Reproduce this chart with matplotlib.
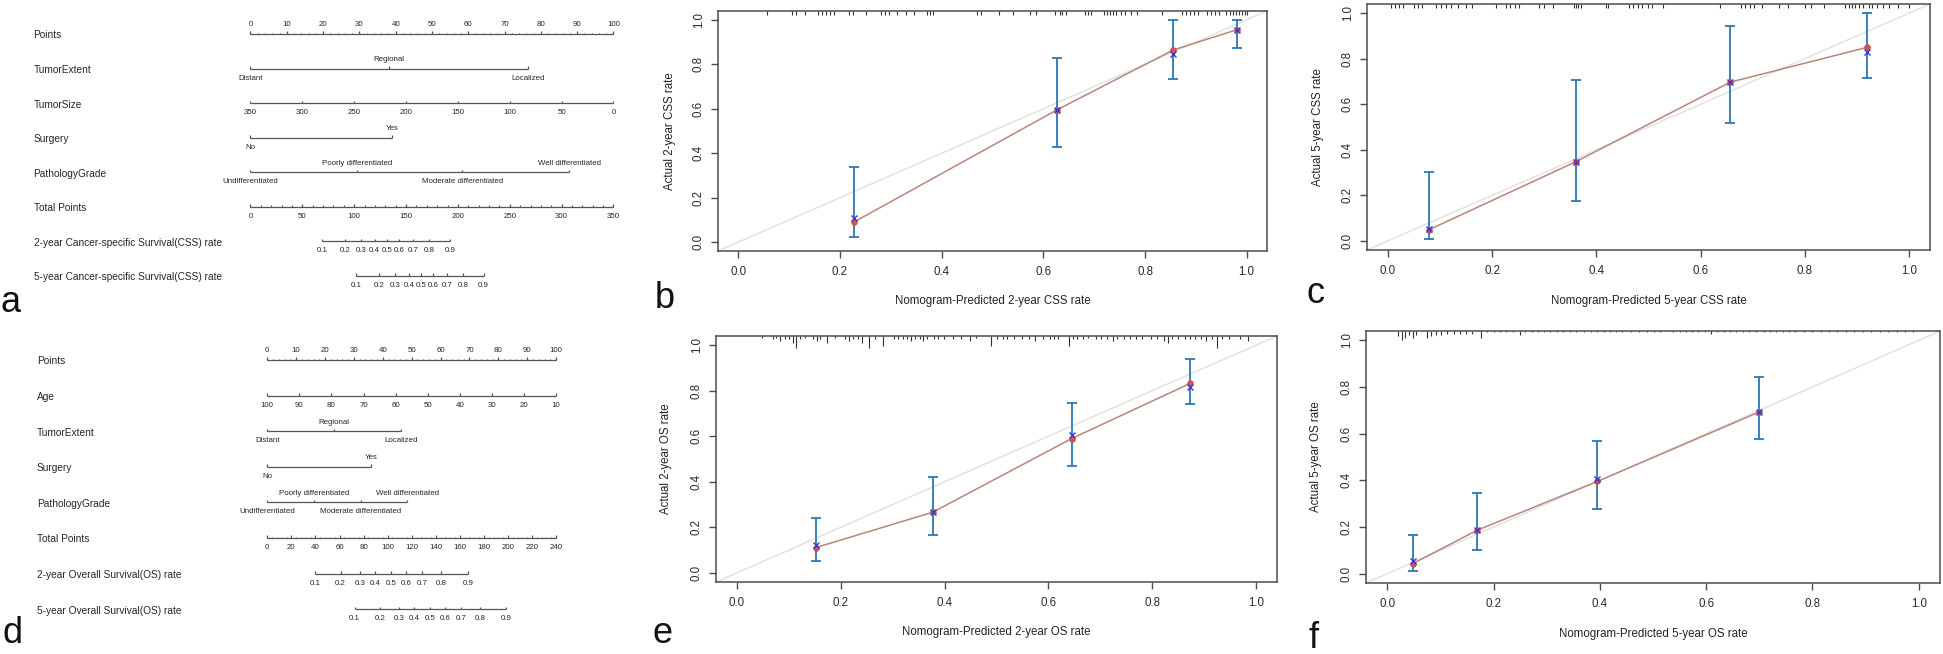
import matplotlib
matplotlib.use("Agg")
import matplotlib.pyplot as plt
import matplotlib.transforms as mtransforms
import numpy as np

plt.rcParams['font.family'] = ['Liberation Sans', 'DejaVu Sans']

W, H = 1943, 654
fig = plt.figure(figsize=(W / 100, H / 100), dpi=100)

# ---------------- nomogram data ----------------
surv_ticks = [0.1, 0.2, 0.3, 0.4, 0.5, 0.6, 0.7, 0.8, 0.9]

# panel a (CSS)
a_rows = ["Points", "TumorExtent", "TumorSize", "Surgery", "PathologyGrade", "Total Points",
          "2-year Cancer-specific Survival(CSS) rate", "5-year Cancer-specific Survival(CSS) rate"]
a_extent_lab = ["Distant", "Regional", "Localized"]
a_extent_pts = [0, 38.2, 76.4]
a_size_vals = [350, 300, 250, 200, 150, 100, 50, 0]
a_size_max = 350
a_surg_lab = ["No", "Yes"]
a_surg_pts = [0, 38.9]
a_grade_lab = ["Undifferentiated", "Poorly differentiated", "Moderate differentiated", "Well differentiated"]
a_grade_pts = [0, 29.3, 58.4, 87.8]
a_total_max = 350
a_total_labels = [0, 50, 100, 150, 200, 250, 300, 350]
a_total_minor = 10
a_css2_pts = [19.8, 26.0, 30.5, 34.2, 37.6, 41.0, 44.7, 49.2, 55.0]
a_css5_pts = [29.2, 35.4, 39.9, 43.6, 47.0, 50.4, 54.1, 58.6, 64.2]

# panel d (OS)
d_rows = ["Points", "Age", "TumorExtent", "Surgery", "PathologyGrade", "Total Points",
          "2-year Overall Survival(OS) rate", "5-year Overall Survival(OS) rate"]
d_age_vals = [100, 90, 80, 70, 60, 50, 40, 30, 20, 10]
d_extent_lab = ["Distant", "Regional", "Localized"]
d_extent_pts = [0, 23.1, 46.2]
d_surg_lab = ["No", "Yes"]
d_surg_pts = [0, 35.9]
d_grade_lab = ["Undifferentiated", "Poorly differentiated", "Moderate differentiated", "Well differentiated"]
d_grade_pts = [0, 16.3, 32.4, 48.5]
d_total_max = 240
d_total_labels = [0, 20, 40, 60, 80, 100, 120, 140, 160, 180, 200, 220, 240]
d_total_minor = 4
d_os2_pts = [16.5, 25.4, 32.1, 37.4, 42.8, 48.1, 53.5, 60.3, 69.4]
d_os5_pts = [30.2, 39.1, 45.6, 50.9, 56.3, 61.6, 67.0, 73.6, 82.7]

# ---------------- calibration data ----------------
b_pred = [0.228, 0.626, 0.856, 0.980]
b_obs = [0.091, 0.594, 0.865, 0.955]
b_km = [0.110, 0.594, 0.847, 0.955]
b_lo = [0.025, 0.430, 0.734, 0.875]
b_hi = [0.336, 0.829, 1.000, 1.000]
b_rug = [0.056, 0.106, 0.114, 0.131, 0.156, 0.164, 0.172, 0.180, 0.189, 0.218, 0.226, 0.251,
         0.280, 0.288, 0.296, 0.313, 0.329, 0.346, 0.371, 0.377, 0.383, 0.470, 0.478, 0.512,
         0.541, 0.574, 0.586, 0.623, 0.632, 0.637, 0.644, 0.681, 0.687, 0.694, 0.719, 0.725,
         0.731, 0.737, 0.743, 0.752, 0.760, 0.772, 0.785, 0.834, 0.872, 0.880, 0.888, 0.897,
         0.905, 0.921, 0.930, 0.938, 0.946, 0.959, 0.967, 0.974, 0.979, 0.985, 0.990, 0.996, 1.0]
b_rug_n = [1] * len(b_rug)

c_pred = [0.079, 0.361, 0.657, 0.920]
c_obs = [0.049, 0.348, 0.697, 0.850]
c_km = [0.052, 0.348, 0.697, 0.828]
c_lo = [0.007, 0.173, 0.518, 0.716]
c_hi = [0.304, 0.705, 0.942, 1.000]
c_rug = [0.006, 0.014, 0.022, 0.030, 0.051, 0.057, 0.065, 0.093, 0.101, 0.111, 0.122, 0.134,
         0.150, 0.162, 0.207, 0.227, 0.235, 0.244, 0.252, 0.290, 0.300, 0.317, 0.357, 0.361,
         0.365, 0.371, 0.418, 0.422, 0.463, 0.471, 0.479, 0.487, 0.499, 0.507, 0.528, 0.637,
         0.678, 0.686, 0.694, 0.702, 0.718, 0.751, 0.767, 0.800, 0.812, 0.836, 0.877, 0.885,
         0.890, 0.897, 0.903, 0.912, 0.923, 0.929, 0.938, 0.950, 0.962, 0.978, 1.0]
c_rug_n = [1] * len(c_rug)

e_pred = [0.152, 0.377, 0.645, 0.873]
e_obs = [0.111, 0.266, 0.590, 0.832]
e_km = [0.123, 0.266, 0.604, 0.816]
e_lo = [0.053, 0.168, 0.470, 0.742]
e_hi = [0.242, 0.422, 0.746, 0.940]
e_rug = [0.049, 0.069, 0.075, 0.084, 0.092, 0.100, 0.108, 0.114, 0.122, 0.132, 0.147, 0.155,
         0.161, 0.173, 0.189, 0.209, 0.217, 0.224, 0.234, 0.242, 0.254, 0.266, 0.282, 0.303,
         0.311, 0.320, 0.327, 0.335, 0.343, 0.353, 0.359, 0.367, 0.380, 0.388, 0.398, 0.416,
         0.432, 0.449, 0.461, 0.489, 0.501, 0.513, 0.521, 0.534, 0.550, 0.562, 0.574, 0.590,
         0.603, 0.611, 0.619, 0.639, 0.647, 0.655, 0.666, 0.676, 0.692, 0.702, 0.712, 0.724,
         0.732, 0.745, 0.757, 0.769, 0.781, 0.797, 0.809, 0.822, 0.830, 0.838, 0.850, 0.862,
         0.872, 0.882, 0.893, 0.903, 0.915, 0.925, 0.935, 0.947, 0.968, 0.984]
e_rug_n = [1, 2, 1, 3, 2, 2, 4, 7, 2, 1, 2, 3, 2, 4, 1, 2, 3, 2, 2, 4, 7, 2, 6, 2,
           2, 2, 2, 3, 2, 2, 3, 2, 2, 2, 2, 2, 2, 3, 1, 6, 2, 2, 2, 2, 2, 2, 3, 2,
           2, 2, 2, 6, 2, 2, 2, 1, 2, 2, 2, 3, 2, 2, 2, 2, 2, 2, 2, 3, 4, 2, 2, 2,
           2, 2, 2, 3, 2, 7, 2, 2, 2, 3]

f_pred = [0.048, 0.169, 0.395, 0.700]
f_obs = [0.043, 0.186, 0.395, 0.693]
f_km = [0.054, 0.186, 0.405, 0.693]
f_lo = [0.011, 0.102, 0.275, 0.579]
f_hi = [0.166, 0.347, 0.570, 0.842]
f_rug = [0.020, 0.028, 0.033, 0.041, 0.049, 0.055, 0.075, 0.083, 0.091, 0.101, 0.113, 0.125,
         0.137, 0.149, 0.160, 0.176, 0.188, 0.200, 0.212, 0.224, 0.236, 0.250, 0.260, 0.272,
         0.284, 0.295, 0.307, 0.319, 0.331, 0.343, 0.355, 0.371, 0.383, 0.395, 0.407, 0.419,
         0.430, 0.442, 0.458, 0.474, 0.488, 0.502, 0.514, 0.538, 0.550, 0.562, 0.573, 0.585,
         0.597, 0.609, 0.621, 0.633, 0.645, 0.657, 0.669, 0.681, 0.693, 0.708, 0.720, 0.732,
         0.744, 0.756, 0.768, 0.784, 0.800, 0.816, 0.832, 0.847, 0.863, 0.879, 0.895, 0.911,
         0.927, 0.943, 0.959, 0.975, 0.990]
f_rug_n = [4, 7, 5, 3, 5, 3, 5, 4, 3, 3, 2, 2, 2, 2, 2, 5] + [1] * 5 + [3] + [1] * 27 + [2] + [1] * 27


def px_axes(l, t, r, b):
    return fig.add_axes([l / W, 1 - b / H, (r - l) / W, (b - t) / H])


LC = '#555555'
TC = '#262626'


def nomogram(top, bottom, x0, ppp, row0, rowpx, labx, rows):
    ax = px_axes(0, top, 640, bottom)
    ax.set_xlim(-x0 / ppp, (640 - x0) / ppp)
    ax.set_ylim((bottom - row0) / rowpx, -(row0 - top) / rowpx)
    ax.axis('off')
    for i, r in enumerate(rows):
        ax.text((labx - x0) / ppp, i + 1.5 / rowpx, r, ha='left', va='center', fontsize=7.3, color=TC)
    ax._ppp = ppp
    ax._rowpx = rowpx
    return ax


def scale(ax, row, pos, labels, kind='below', minor=None):
    tl = 2.6 / ax._rowpx
    ax.plot([min(pos), max(pos)], [row, row], color=LC, lw=0.9, solid_capstyle='butt')
    ax.vlines(pos, row - tl, row, color=LC, lw=0.9)
    if minor is not None:
        ax.vlines(minor, row - tl * 0.55, row, color=LC, lw=0.8)
    for i, (p, l) in enumerate(zip(pos, labels)):
        if kind == 'top' or (kind == 'alt' and i % 2 == 1):
            ax.text(p, row - 9 / ax._rowpx, l, ha='center', va='center', fontsize=5.7, color=TC)
        else:
            ax.text(p, row + 9.5 / ax._rowpx, l, ha='center', va='center', fontsize=5.7, color=TC)


def fmt(v):
    return ('%g' % v)


# ---- panel a
ax = nomogram(0, 327, 250.5, 3.63, 34, 34.57, 33.6, a_rows)
pt_major = list(range(0, 101, 10))
scale(ax, 0, pt_major, [str(v) for v in pt_major], 'top', minor=np.arange(0, 101, 2))
scale(ax, 1, a_extent_pts, a_extent_lab, 'alt')
scale(ax, 2, [(a_size_max - v) / a_size_max * 100 for v in a_size_vals], [str(v) for v in a_size_vals])
scale(ax, 3, a_surg_pts, a_surg_lab, 'alt')
scale(ax, 4, a_grade_pts, a_grade_lab, 'alt')
scale(ax, 5, [v / a_total_max * 100 for v in a_total_labels], [str(v) for v in a_total_labels],
      minor=np.arange(0, a_total_max + 1, a_total_minor) / a_total_max * 100)
scale(ax, 6, a_css2_pts, [fmt(v) for v in surv_ticks])
scale(ax, 7, a_css5_pts, [fmt(v) for v in surv_ticks])

# ---- panel d
ax = nomogram(327, 654, 267.3, 2.888, 360, 35.6, 36.8, d_rows)
scale(ax, 0, pt_major, [str(v) for v in pt_major], 'top', minor=np.arange(0, 101, 2))
scale(ax, 1, [(100 - v) / 90 * 100 for v in d_age_vals], [str(v) for v in d_age_vals])
scale(ax, 2, d_extent_pts, d_extent_lab, 'alt')
scale(ax, 3, d_surg_pts, d_surg_lab, 'alt')
scale(ax, 4, d_grade_pts, d_grade_lab, 'alt')
scale(ax, 5, [v / d_total_max * 100 for v in d_total_labels], [str(v) for v in d_total_labels],
      minor=np.arange(0, d_total_max + 1, d_total_minor) / d_total_max * 100)
scale(ax, 6, d_os2_pts, [fmt(v) for v in surv_ticks])
scale(ax, 7, d_os5_pts, [fmt(v) for v in surv_ticks])


# ---------------- calibration panels ----------------
def calib(box, pred, obs, km, lo, hi, rug, rug_n, unit_px, xlab, ylab, xlab_y, ylab_x):
    l, t, r, b = box
    ax = px_axes(l, t, r, b)
    ax.set_xlim(-0.04, 1.04)
    ax.set_ylim(-0.04, 1.04)
    ax.axline((0, 0), (1, 1), color='#e2e2e2', lw=1.1, zorder=1)
    ax.plot(pred, obs, color='#b9857d', lw=1.1, zorder=2)
    pred = np.array(pred)
    ax.errorbar(pred, obs, yerr=[np.array(obs) - np.array(lo), np.array(hi) - np.array(obs)],
                fmt='none', ecolor='#2b78b5', elinewidth=1.3, capsize=3.4, capthick=1.3, zorder=3)
    ax.plot(pred, obs, 'o', ms=4.0, mfc='#d9534a', mec='#c8463c', mew=0.6, zorder=4)
    ax.plot(pred, km, 'x', ms=4.6, mew=1.0, color='#3a3ad2', zorder=5)
    hpx = b - t
    trans = mtransforms.blended_transform_factory(ax.transData, ax.transAxes)
    ax.vlines(rug, [1 - n * unit_px / hpx for n in rug_n], 1, transform=trans,
              color='#333333', lw=0.8, zorder=2)
    ticks = [0.0, 0.2, 0.4, 0.6, 0.8, 1.0]
    ax.set_xticks(ticks)
    ax.set_yticks(ticks)
    ax.set_xticklabels(['%.1f' % v for v in ticks])
    ax.set_yticklabels(['%.1f' % v for v in ticks], rotation=90, va='center')
    ax.tick_params(axis='both', direction='out', length=5, width=1.0, color='#4d4d4d',
                   labelsize=8.3, labelcolor='#2a2a2a')
    ax.tick_params(axis='x', pad=6)
    ax.tick_params(axis='y', pad=4.5)
    for s in ax.spines.values():
        s.set_color('#4d4d4d')
        s.set_linewidth(1.1)
    fig.text(((l + r) / 2) / W, 1 - xlab_y / H, xlab, ha='center', va='center', fontsize=8.3, color='#222222')
    fig.text(ylab_x / W, 1 - ((t + b) / 2) / H, ylab, ha='center', va='center', rotation=90,
             fontsize=8.3, color='#222222')
    return ax


calib((718, 11, 1267, 251), b_pred, b_obs, b_km, b_lo, b_hi, b_rug, b_rug_n, 3.5,
      "Nomogram-Predicted 2-year CSS rate", "Actual 2-year CSS rate", 301, 669.7)
calib((1367, 4, 1930, 250), c_pred, c_obs, c_km, c_lo, c_hi, c_rug, c_rug_n, 3.5,
      "Nomogram-Predicted 5-year CSS rate", "Actual 5-year CSS rate", 300.7, 1318)
calib((716, 336, 1277, 582), e_pred, e_obs, e_km, e_lo, e_hi, e_rug, e_rug_n, 1.67,
      "Nomogram-Predicted 2-year OS rate", "Actual 2-year OS rate", 631.7, 666.3)
calib((1366, 331, 1940, 583), f_pred, f_obs, f_km, f_lo, f_hi, f_rug, f_rug_n, 1.3,
      "Nomogram-Predicted 5-year OS rate", "Actual 5-year OS rate", 634.3, 1316)

# panel letters
for lab, x, y in [("a", 11, 312), ("b", 665, 308), ("c", 1316, 303),
                  ("d", 12, 643), ("e", 662, 643), ("f", 1314, 648)]:
    fig.text(x / W, 1 - y / H, lab, ha='center', va='baseline', fontsize=26, color='#111111')

fig.savefig("out.png", dpi=100)
